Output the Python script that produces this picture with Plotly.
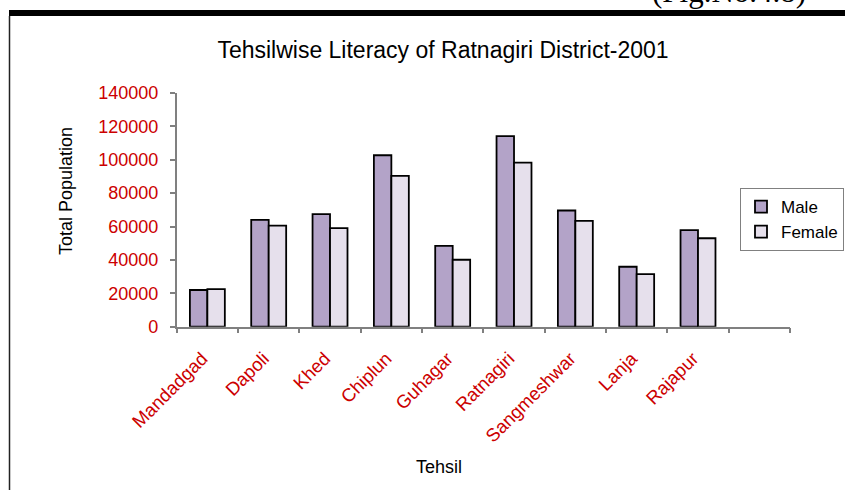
import plotly.graph_objects as go

tehsils = ["Mandadgad", "Dapoli", "Khed", "Chiplun", "Guhagar", "Ratnagiri",
           "Sangmeshwar", "Lanja", "Rajapur", " "]
male = [22000, 64000, 67400, 102700, 48400, 114200, 69600, 35900, 57800, None]
female = [22500, 60600, 59000, 90300, 40100, 98300, 63400, 31500, 53000, None]
y_ticks = [0, 20000, 40000, 60000, 80000, 100000, 120000, 140000]

W, H = 845, 490
RED = "rgb(204,0,0)"
FONT = "Liberation Sans, Arial, sans-serif"

def px_x(p):
    return p / W

def px_y(p):
    return (H - p) / H

fig = go.Figure()
fig.add_trace(go.Bar(name="Male", x=tehsils, y=male,
                     marker=dict(color="#B3A3C8", line=dict(color="black", width=1.8))))
fig.add_trace(go.Bar(name="Female", x=tehsils, y=female,
                     marker=dict(color="#E6E0EC", line=dict(color="black", width=1.8))))

fig.update_layout(
    width=W, height=H,
    margin=dict(l=0, r=0, t=0, b=0, autoexpand=False),
    paper_bgcolor="white", plot_bgcolor="white",
    barmode="group", bargap=0.43, bargroupgap=0,
    font=dict(family=FONT, size=17, color="black"),
    title=dict(text="Tehsilwise Literacy of Ratnagiri District-2001",
               x=px_x(443), y=px_y(50), xanchor="center", yanchor="middle",
               font=dict(family=FONT, size=23, color="black")),
    xaxis=dict(domain=[px_x(176.7), px_x(790)], type="category",
               categoryorder="array", categoryarray=tehsils,
               range=[-0.5, len(tehsils) - 0.5],
               showline=True, linecolor="#808080", linewidth=1.5,
               ticks="outside", tickson="boundaries", ticklen=5,
               tickcolor="#808080", tickwidth=1.5,
               tickangle=-45, ticklabelstandoff=12, ticklabelshift=-5,
               tickfont=dict(family=FONT, size=18.5, color=RED),
               showgrid=False, zeroline=False),
    yaxis=dict(domain=[px_y(326.7), px_y(93)], range=[0, 140000],
               tickvals=y_ticks, tickformat="d",
               showline=True, linecolor="#808080", linewidth=1.5,
               ticks="outside", ticklen=5, tickcolor="#808080", tickwidth=1.5,
               ticklabelstandoff=8,
               tickfont=dict(family=FONT, size=18, color=RED),
               showgrid=False, zeroline=False),
    legend=dict(x=px_x(844), y=px_y(219.5), xanchor="right", yanchor="middle",
                bordercolor="#808080", borderwidth=1, bgcolor="white",
                font=dict(family=FONT, size=17, color="black"),
                itemwidth=30, tracegroupgap=0),
    showlegend=True,
)

fig.add_annotation(text="Total Population", textangle=-90,
                   x=px_x(66), y=px_y(191), xref="paper", yref="paper",
                   xanchor="center", yanchor="middle", showarrow=False,
                   font=dict(family=FONT, size=18, color="black"))
fig.add_annotation(text="Tehsil",
                   x=px_x(439), y=px_y(467), xref="paper", yref="paper",
                   xanchor="center", yanchor="middle", showarrow=False,
                   font=dict(family=FONT, size=18, color="black"))
fig.add_annotation(text="(Fig.No.4.8)",
                   x=px_x(650), y=px_y(11), xref="paper", yref="paper",
                   xanchor="left", yanchor="bottom", showarrow=False,
                   font=dict(family="Liberation Serif, Times New Roman, serif", size=31, color="black"))

# page frame: thick top rule and thin left rule
fig.add_shape(type="rect", xref="paper", yref="paper",
              x0=px_x(9), x1=1, y0=px_y(16), y1=px_y(10),
              fillcolor="black", line=dict(width=0), layer="above")
fig.add_shape(type="line", xref="paper", yref="paper",
              x0=px_x(9.5), x1=px_x(9.5), y0=px_y(16), y1=0,
              line=dict(color="#222222", width=1.5), layer="above")

fig.write_html("out.html")
